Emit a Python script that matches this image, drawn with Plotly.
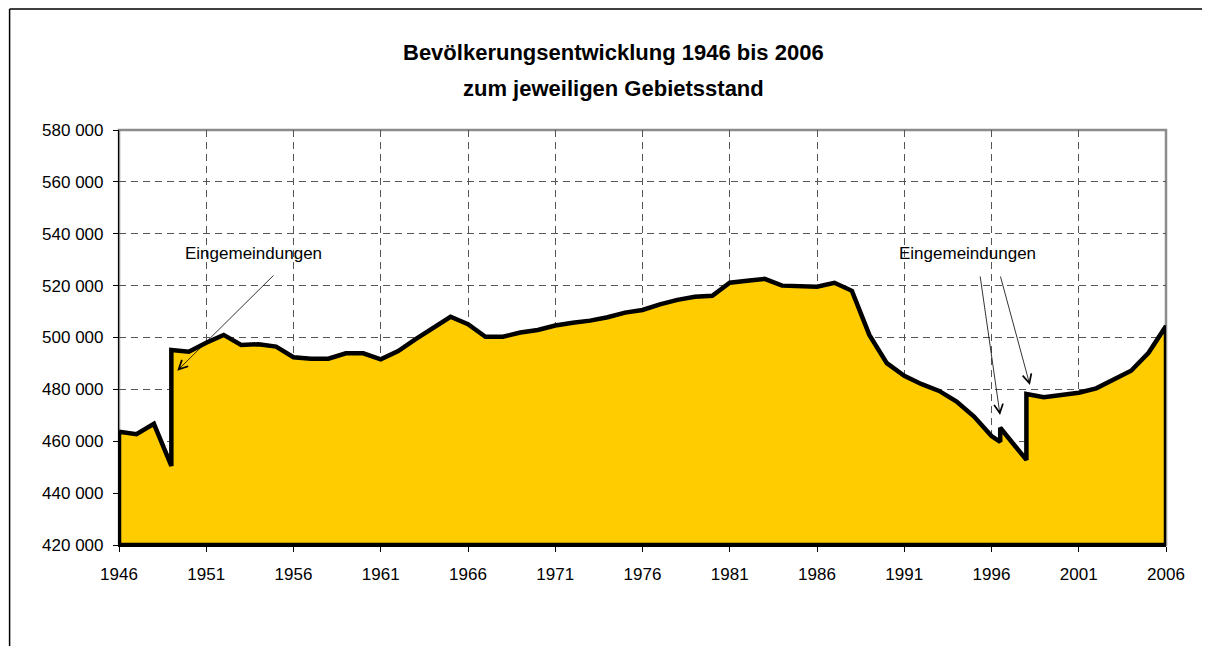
import plotly.graph_objects as go

# ---- data ----
years = [1946, 1947, 1948, 1949, 1949, 1950, 1951, 1952, 1953, 1954, 1955,
         1956, 1957, 1958, 1959, 1960, 1961, 1962, 1963, 1964, 1965, 1966,
         1967, 1968, 1969, 1970, 1971, 1972, 1973, 1974, 1975, 1976, 1977,
         1978, 1979, 1980, 1981, 1982, 1983, 1984, 1985, 1986, 1987, 1988,
         1989, 1990, 1991, 1992, 1993, 1994, 1995, 1996, 1996.5, 1996.5,
         1998, 1998, 1999, 2000, 2001, 2002, 2003, 2004, 2005, 2006]
population = [463700, 462700, 466700, 450500, 495200, 494500, 498000, 501000,
              497100, 497400, 496500, 492400, 491800, 491800, 493900, 493900,
              491600, 494800, 499400, 503900, 508000, 505100, 500300, 500300,
              501900, 502900, 504600, 505700, 506500, 507800, 509600, 510600,
              512800, 514500, 515700, 516100, 521100, 521900, 522600, 520000,
              519600, 519600, 521100, 518000, 501000, 490100, 485200, 482000,
              479400, 475300, 469500, 462000, 459800, 465200, 452800, 478200,
              477000, 477800, 478700, 480400, 483600, 487200, 494100, 504400]

y_ticks = [420000, 440000, 460000, 480000, 500000, 520000, 540000, 560000, 580000]
y_tick_labels = ["420 000", "440 000", "460 000", "480 000", "500 000",
                 "520 000", "540 000", "560 000", "580 000"]
x_ticks = [1946, 1951, 1956, 1961, 1966, 1971, 1976, 1981, 1986, 1991, 1996, 2001, 2006]

title_line1 = "Bevölkerungsentwicklung 1946 bis 2006"
title_line2 = "zum jeweiligen Gebietsstand"
note_text = "Eingemeindungen"

# annotation arrows: (tail_x, tail_y, head_x, head_y)
arrow_left = (1954.94, 524500, 1949.34, 487200)
arrow_right1 = (1995.34, 524100, 1996.49, 470100)
arrow_right2 = (1996.49, 524100, 1998.2, 481700)
# annotation label positions (x, y)
label_left = (1953.68, 527800)
label_right = (1994.65, 527800)

Y_MIN, Y_MAX = y_ticks[0], y_ticks[-1]
X_MIN, X_MAX = x_ticks[0], x_ticks[-1]

FONT = "Liberation Sans, Arial, sans-serif"

# closed area polygon down to the axis minimum
poly_x = years + [years[-1], years[0], years[0]]
poly_y = population + [Y_MIN, Y_MIN, population[0]]

fig = go.Figure()
fig.add_trace(go.Scatter(
    x=poly_x, y=poly_y, mode="lines", fill="toself",
    fillcolor="#FFCC00",
    line=dict(color="#000000", width=4.5),
    hoverinfo="skip", showlegend=False,
))

annotations = []
for (tx, ty, hx, hy) in [arrow_left, arrow_right1, arrow_right2]:
    annotations.append(dict(
        x=hx, y=hy, ax=tx, ay=ty, xref="x", yref="y", axref="x", ayref="y",
        text="", showarrow=True, arrowhead=5, arrowsize=2.2, arrowwidth=0.8,
        arrowcolor="#000000", standoff=0, startstandoff=0,
    ))
for (lx, ly) in [label_left, label_right]:
    annotations.append(dict(x=lx, y=ly, xref="x", yref="y", text=note_text,
                            showarrow=False, font=dict(family=FONT, size=17, color="#000"),
                            yanchor="bottom"))
# title lines
annotations.append(dict(x=0.472, y=1.186, xref="paper", yref="paper", text="<b>%s</b>" % title_line1,
                        showarrow=False, font=dict(family=FONT, size=22, color="#000"),
                        yanchor="middle"))
annotations.append(dict(x=0.472, y=1.099, xref="paper", yref="paper", text="<b>%s</b>" % title_line2,
                        showarrow=False, font=dict(family=FONT, size=22, color="#000"),
                        yanchor="middle"))

shapes = [
    # plot-area border (gray top/right)
    dict(type="rect", xref="paper", yref="paper", x0=0, y0=0, x1=1, y1=1,
         line=dict(color="#8c8c8c", width=2.5), layer="below"),
    # outer chart frame (left and top visible)
    dict(type="line", xref="paper", yref="paper", x0=-0.1045, x1=-0.1045, y0=1.2916, y1=-0.40,
         line=dict(color="#000000", width=1.5)),
    dict(type="line", xref="paper", yref="paper", x0=-0.1045, x1=1.08, y0=1.2916, y1=1.2916,
         line=dict(color="#000000", width=1.5)),
]

fig.update_layout(
    width=1202, height=638,
    margin=dict(l=111, r=44, t=122, b=101),
    paper_bgcolor="#ffffff", plot_bgcolor="#ffffff",
    showlegend=False, hovermode=False,
    annotations=annotations, shapes=shapes,
    font=dict(family=FONT, size=17, color="#000"),
)
fig.update_xaxes(
    range=[X_MIN, X_MAX], tickvals=x_ticks, ticktext=[str(v) for v in x_ticks],
    ticks="outside", ticklen=5, tickcolor="#000", tickwidth=1,
    showline=True, linecolor="#000", linewidth=2,
    showgrid=True, gridcolor="#555555", gridwidth=1, griddash="7px,5px",
    zeroline=False, tickfont=dict(family=FONT, size=17, color="#000"),
    ticklabelstandoff=8,
)
fig.update_yaxes(
    range=[Y_MIN, Y_MAX], tickvals=y_ticks, ticktext=y_tick_labels,
    ticks="outside", ticklen=5, tickcolor="#000", tickwidth=1,
    showline=True, linecolor="#000", linewidth=1.2,
    showgrid=True, gridcolor="#555555", gridwidth=1, griddash="7px,5px",
    zeroline=False, tickfont=dict(family=FONT, size=17, color="#000"),
    ticklabelstandoff=6,
)

fig.write_html("out.html")
